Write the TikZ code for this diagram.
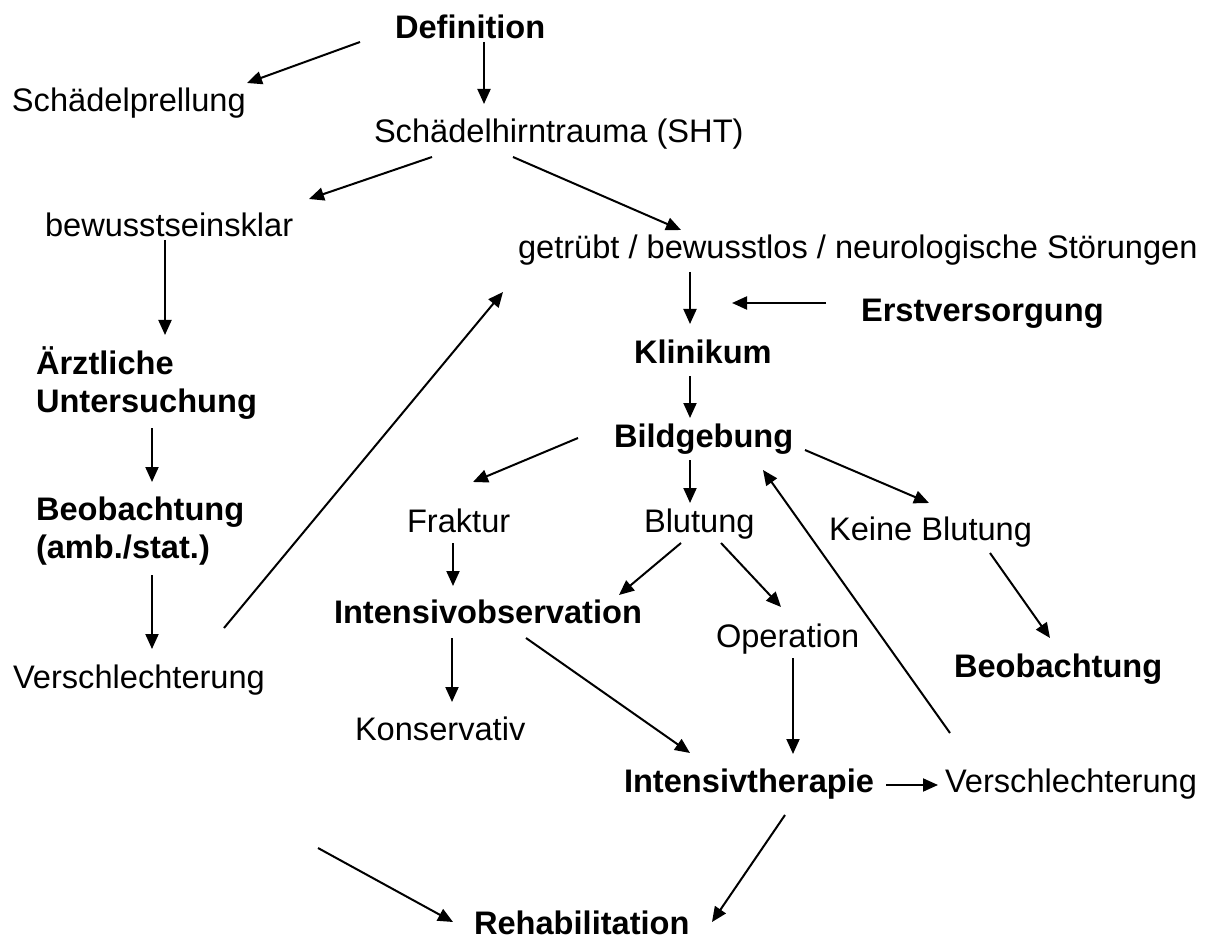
\documentclass[tikz,border=0pt]{standalone}
\usepackage{fontspec}
\setmainfont{Liberation Sans}
\usetikzlibrary{arrows.meta,calc}

\begin{document}
\begin{tikzpicture}[
	x = 1pt, y = -1pt, % picture measured in px, y pointing down
	> = {Triangle[length=15pt, width=13pt]}, % arrow head style
	line width = 2pt,
	T/.style={anchor=base west, inner sep=0pt, align=left, font=\fontsize{32.6}{38}\selectfont},  % plain label
	B/.style={T, font=\fontsize{32.6}{38}\selectfont\bfseries},                                   % bold label
	]
	\useasboundingbox (0,0) rectangle (1213,941);

	% Nodes and their positions (two-line nodes sit on their last line)
	\node[B] (def)   at (394,39)  {Definition};
	\node[T] (prell) at (11,112)  {Schädelprellung};
	\node[T] (sht)   at (373,143) {Schädelhirntrauma (SHT)};
	\node[T] (bew)   at (44,237)  {bewusstseinsklar};
	\node[T] (getr)  at (517,259) {getrübt / bewusstlos / neurologische Störungen};
	\node[B] (erst)  at (860,322) {Erstversorgung};
	\node[B] (klin)  at (633,363) {Klinikum};
	\node[B] (bild)  at (613,447) {Bildgebung};
	\node[B] (aerzt) at (35,412)  {Ärztliche\\Untersuchung};
	\node[B] (beobL) at (35,558)  {Beobachtung\\(amb./stat.)};
	\node[T] (frak)  at (406,532) {Fraktur};
	\node[T] (blut)  at (643,532) {Blutung};
	\node[T] (keine) at (828,540) {Keine Blutung};
	\node[B] (iobs)  at (333,623) {Intensivobservation};
	\node[T] (op)    at (715,647) {Operation};
	\node[B] (beobR) at (953,677) {Beobachtung};
	\node[T] (versL) at (12,688)  {Verschlechterung};
	\node[T] (kons)  at (354,740) {Konservativ};
	\node[B] (ither) at (623,792) {Intensivtherapie};
	\node[T] (versR) at (944,792) {Verschlechterung};
	\node[B] (reha)  at (473,934) {Rehabilitation};

	% free arrow ends
	\coordinate (erstEnd) at (732,303);
	\coordinate (rehaIn)  at (318,848);

	% Paths connecting nodes
	\draw[->] ($(def.base west)+(-34,3)$)   -- ($(prell.base west)+(236,-29)$);
	\draw[->] ($(def.base west)+(90,3)$)    -- ($(sht.base west)+(111,-39)$);
	\draw[->] ($(sht.base west)+(59,14)$)   -- ($(bew.base west)+(265,-38)$);
	\draw[->] ($(sht.base west)+(140,14)$)  -- ($(getr.base west)+(164,-29)$);
	\draw[->] ($(bew.base west)+(121,3)$)   -- ($(aerzt.base west)+(130,-77)$);
	\draw[->] ($(aerzt.base west)+(117,16)$) -- ($(beobL.base west)+(117,-76)$);
	\draw[->] ($(beobL.base west)+(117,17)$) -- ($(versL.base west)+(140,-39)$);
	\draw[->] ($(versL.base west)+(212,-60)$) -- ($(getr.base west)+(-14,33)$);
	\draw[->] ($(getr.base west)+(173,13)$) -- ($(klin.base west)+(57,-39)$);
	\draw[->] ($(erst.base west)+(-34,-19)$) -- (erstEnd);
	\draw[->] ($(klin.base west)+(57,13)$)  -- ($(bild.base west)+(77,-29)$);
	\draw[->] ($(bild.base west)+(-35,-9)$) -- ($(frak.base west)+(67,-50)$);
	\draw[->] ($(bild.base west)+(77,13)$)  -- ($(blut.base west)+(47,-29)$);
	\draw[->] ($(bild.base west)+(192,3)$)  -- ($(keine.base west)+(101,-37)$);
	\draw[->] ($(versR.base west)+(6,-59)$) -- ($(bild.base west)+(150,23)$);
	\draw[->] ($(frak.base west)+(47,11)$)  -- ($(iobs.base west)+(120,-37)$);
	\draw[->] ($(blut.base west)+(38,11)$)  -- ($(iobs.base west)+(286,-28)$);
	\draw[->] ($(blut.base west)+(78,11)$)  -- ($(op.base west)+(66,-40)$);
	\draw[->] ($(keine.base west)+(162,13)$) -- ($(beobR.base west)+(97,-39)$);
	\draw[->] ($(iobs.base west)+(119,15)$) -- ($(kons.base west)+(98,-38)$);
	\draw[->] ($(iobs.base west)+(193,15)$) -- ($(ither.base west)+(67,-39)$);
	\draw[->] ($(op.base west)+(78,11)$)    -- ($(ither.base west)+(170,-38)$);
	\draw[->] ($(ither.base west)+(263,-7)$) -- ($(versR.base west)+(-6,-7)$);
	\draw[->] ($(ither.base west)+(162,23)$) -- ($(reha.base west)+(239,-12)$);
	\draw[->] (rehaIn) -- ($(reha.base west)+(-20,-12)$);

\end{tikzpicture}
\end{document}
